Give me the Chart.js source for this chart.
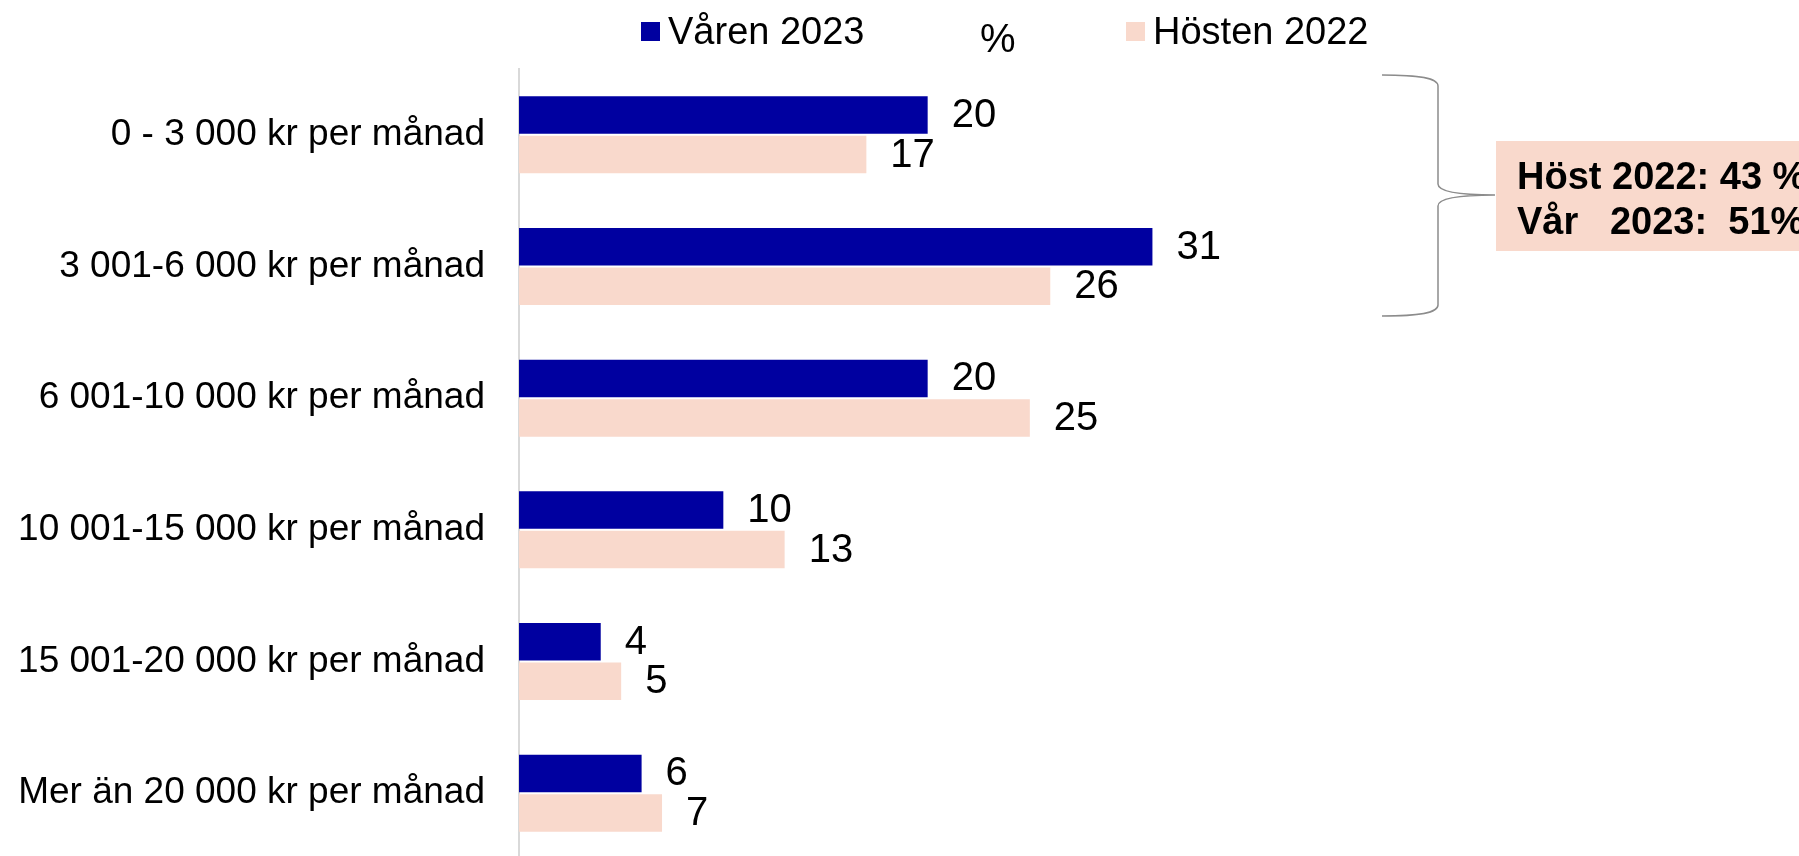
<!DOCTYPE html>
<html>
<head>
<meta charset="utf-8">
<script src="https://cdn.jsdelivr.net/npm/chart.js@4"></script>
<style>
  html, body { margin: 0; padding: 0; background: #fff; overflow: hidden; }
  canvas { display: block; }
</style>
</head>
<body>
<canvas id="chart" width="1799" height="860"></canvas>
<script>
var categories = [
    "0 - 3 000 kr per månad",
    "3 001-6 000 kr per månad",
    "6 001-10 000 kr per månad",
    "10 001-15 000 kr per månad",
    "15 001-20 000 kr per månad",
    "Mer än 20 000 kr per månad"
];
var varen2023 = [20, 31, 20, 10, 4, 6];
var hosten2022 = [17, 26, 25, 13, 5, 7];
var seriesNames = ["Våren 2023", "Hösten 2022"];
var unitLabel = "%";
var noteLines = ["Höst 2022: 43 %", "Vår   2023:  51%"];

var BLUE = '#0000a0';
var PEACH = '#f9d9cc';
var FONT = '"Liberation Sans", Arial, sans-serif';

// value labels at the end of each bar
var valueLabels = {
    id: 'valueLabels',
    afterDatasetsDraw: function (chart) {
        var ctx = chart.ctx;
        ctx.save();
        ctx.font = '40px ' + FONT;
        ctx.fillStyle = '#000';
        ctx.textAlign = 'left';
        ctx.textBaseline = 'middle';
        chart.data.datasets.forEach(function (ds, i) {
            chart.getDatasetMeta(i).data.forEach(function (bar, j) {
                ctx.fillText(String(ds.data[j]), bar.x + 24, bar.y + 1);
            });
        });
        ctx.restore();
    }
};

// legend, "%" and the bracket note
var extras = {
    id: 'extras',
    afterDraw: function (chart) {
        var ctx = chart.ctx;
        ctx.save();
        ctx.font = '38px ' + FONT;
        ctx.textBaseline = 'alphabetic';
        ctx.textAlign = 'left';
        var legendX = [641, 1126];
        chart.data.datasets.forEach(function (ds, i) {
            ctx.fillStyle = ds.backgroundColor;
            ctx.fillRect(legendX[i], 22, 19, 19);
            ctx.fillStyle = '#000';
            ctx.fillText(ds.label, legendX[i] + 27, 44);
        });
        ctx.font = '40px ' + FONT;
        ctx.fillText(unitLabel, 980, 52);

        // bracket
        ctx.strokeStyle = '#8c8c8c';
        ctx.lineWidth = 1.5;
        ctx.beginPath();
        ctx.moveTo(1382, 75);
        ctx.bezierCurveTo(1420, 75, 1438, 78, 1438, 86);
        ctx.lineTo(1438, 184);
        ctx.bezierCurveTo(1438, 192, 1460, 195, 1495, 195);
        ctx.bezierCurveTo(1460, 195, 1438, 198, 1438, 206);
        ctx.lineTo(1438, 305);
        ctx.bezierCurveTo(1438, 313, 1420, 316, 1382, 316);
        ctx.stroke();

        // note box
        ctx.fillStyle = PEACH;
        ctx.fillRect(1496, 141, 320, 110);
        ctx.fillStyle = '#000';
        ctx.font = 'bold 38px ' + FONT;
        ctx.fillText(noteLines[0], 1517, 189);
        ctx.fillText(noteLines[1], 1517, 234);
        ctx.restore();
    }
};

var config = {
    type: 'bar',
    data: {
        labels: categories,
        datasets: [{
            label: seriesNames[0],
            data: varen2023,
            backgroundColor: BLUE,
            categoryPercentage: 0.6,
            barPercentage: 0.95
        }, {
            label: seriesNames[1],
            data: hosten2022,
            backgroundColor: PEACH,
            categoryPercentage: 0.6,
            barPercentage: 0.95
        }]
    },
    options: {
        indexAxis: 'y',
        responsive: false,
        animation: false,
        devicePixelRatio: 1,
        layout: {
            padding: { top: 69, bottom: 1, left: 0, right: 54 }
        },
        plugins: {
            legend: { display: false },
            tooltip: { enabled: false }
        },
        scales: {
            x: {
                display: false,
                min: 0,
                max: 60
            },
            y: {
                afterFit: function (scale) {
                    scale.width = 519;
                    scale.paddingTop = 0;
                    scale.paddingBottom = 0;
                },
                grid: { display: false, drawTicks: false },
                border: { display: true, color: '#d9d9d9', width: 2 },
                ticks: {
                    color: '#000',
                    padding: 34,
                    font: { family: FONT, size: 37 }
                }
            }
        }
    },
    plugins: [valueLabels, extras]
};

var ctx = document.getElementById("chart").getContext("2d");
window.myBar = new Chart(ctx, config);
</script>
</body>
</html>
